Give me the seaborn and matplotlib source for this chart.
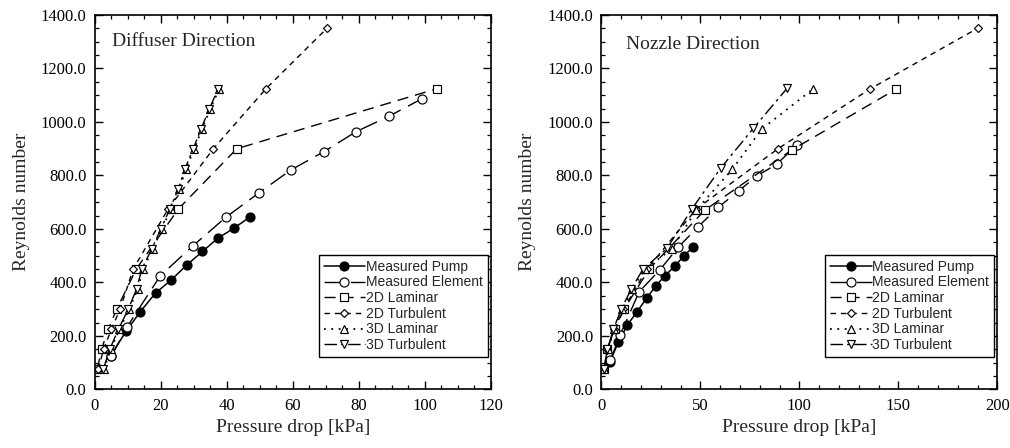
import matplotlib
matplotlib.use("Agg")
import matplotlib.pyplot as plt
import seaborn as sns
from matplotlib.ticker import MultipleLocator, FormatStrFormatter

# ---------------- data: Diffuser direction ----------------
d_pump_dp = [4.8, 9.4, 13.7, 18.4, 23.0, 27.8, 32.6, 37.2, 42.0, 46.9]
d_pump_re = [127, 217, 290, 361, 408, 465, 516, 565, 602, 644]

d_elem_dp = [5.0, 9.8, 19.8, 29.7, 39.7, 49.6, 59.3, 69.4, 79.2, 89.2, 99.0]
d_elem_re = [125, 235, 425, 537, 644, 734, 820, 889, 964, 1022, 1086]

d_lam2_dp = [0.7, 2.0, 4.0, 6.6, 12.5, 25.3, 43.0, 103.8]
d_lam2_re = [75, 150, 225, 300, 450, 675, 900, 1125]

d_tur2_dp = [1.0, 2.6, 5.0, 7.6, 11.6, 22.2, 35.9, 51.9, 70.3]
d_tur2_re = [75, 150, 225, 300, 450, 675, 900, 1125, 1350]

d_lam3_dp = [2.7, 4.8, 7.4, 10.4, 12.9, 14.6, 17.5, 20.3, 23.0, 25.6, 27.6, 30.1, 32.5, 35.0, 37.7]
d_lam3_re = [75, 150, 225, 300, 375, 450, 525, 600, 675, 750, 825, 900, 975, 1050, 1125]

d_tur3_dp = [2.5, 4.5, 7.1, 10.1, 12.6, 14.2, 17.2, 20.0, 22.7, 25.3, 27.3, 29.8, 32.2, 34.7, 37.4]
d_tur3_re = [75, 150, 225, 300, 375, 450, 525, 600, 675, 750, 825, 900, 975, 1050, 1125]

# ---------------- data: Nozzle direction ----------------
n_pump_dp = [4.3, 8.5, 13.1, 17.8, 22.8, 27.4, 32.1, 37.1, 41.7, 46.4]
n_pump_re = [104, 176, 241, 289, 341, 387, 425, 462, 499, 534]

n_elem_dp = [4.5, 9.5, 19.1, 29.5, 38.8, 48.9, 59.0, 69.4, 78.7, 88.5, 98.6]
n_elem_re = [110, 205, 366, 447, 532, 609, 681, 743, 799, 842, 913]

n_lam2_dp = [1.3, 2.9, 6.8, 11.4, 24.1, 52.3, 96.1, 148.9]
n_lam2_re = [75, 150, 225, 300, 450, 671, 895, 1123]

n_tur2_dp = [1.2, 3.0, 6.5, 11.0, 23.0, 48.0, 89.0, 135.8, 190.0]
n_tur2_re = [75, 150, 225, 300, 450, 675, 899, 1124, 1350]

n_lam3_dp = [1.5, 3.3, 6.5, 10.5, 15.5, 22.0, 35.5, 48.0, 66.1, 80.9, 106.7]
n_lam3_re = [75, 150, 225, 300, 375, 450, 525, 672, 823, 973, 1122]

n_tur3_dp = [1.3, 3.0, 6.0, 10.0, 15.0, 21.0, 33.2, 45.6, 60.2, 76.7, 93.8]
n_tur3_re = [75, 150, 225, 300, 375, 450, 528, 674, 827, 976, 1126]

series_names = ["Measured Pump", "Measured Element", "2D Laminar",
                "2D Turbulent", "3D Laminar", "3D Turbulent"]

# ---------------- styling ----------------
sns.set_theme(style="ticks")
plt.rcParams["font.family"] = ["Liberation Serif", "DejaVu Serif"]
plt.rcParams["lines.scale_dashes"] = False

styles = {
    "Measured Pump":    dict(marker="o", ms=6.5, mfc="black", ls="-", lw=1.1),
    "Measured Element": dict(marker="o", ms=6.5, mfc="white", ls=(0, (13, 6)), lw=1.0),
    "2D Laminar":       dict(marker="s", ms=6.3, mfc="white", ls=(0, (8, 5)), lw=1.0),
    "2D Turbulent":     dict(marker="D", ms=4.3, mfc="white", ls=(0, (4, 3.5)), lw=1.0),
    "3D Laminar":       dict(marker="^", ms=6.3, mfc="white", ls=(0, (1.3, 4)), lw=1.3),
    "3D Turbulent":     dict(marker="v", ms=6.3, mfc="white", ls=(0, (9, 3, 2, 3)), lw=1.0),
}

panels = [
    ("Diffuser Direction",
     [(d_pump_dp, d_pump_re), (d_elem_dp, d_elem_re), (d_lam2_dp, d_lam2_re),
      (d_tur2_dp, d_tur2_re), (d_lam3_dp, d_lam3_re), (d_tur3_dp, d_tur3_re)],
     (0, 120), 20, 5, 0.042, 0.93),
    ("Nozzle Direction",
     [(n_pump_dp, n_pump_re), (n_elem_dp, n_elem_re), (n_lam2_dp, n_lam2_re),
      (n_tur2_dp, n_tur2_re), (n_lam3_dp, n_lam3_re), (n_tur3_dp, n_tur3_re)],
     (0, 200), 50, 10, 0.062, 0.92),
]

fig = plt.figure(figsize=(10.10, 4.48), dpi=100)
ax_left = fig.add_axes([0.094, 0.1306, 0.392, 0.836])
ax_right = fig.add_axes([0.5955, 0.1306, 0.392, 0.836])

for ax, (title, data, xlim, xmaj, xmin, tx, ty) in zip([ax_left, ax_right], panels):
    for name, (xs, ys) in zip(series_names, data):
        st = styles[name]
        sns.lineplot(x=xs, y=ys, ax=ax, sort=False, estimator=None,
                     color="black", linestyle=st["ls"], linewidth=st["lw"],
                     marker=st["marker"], markersize=st["ms"],
                     markerfacecolor=st["mfc"], markeredgecolor="black",
                     markeredgewidth=0.85, label=name)
    ax.set_xlim(*xlim)
    ax.set_ylim(0, 1400)
    ax.xaxis.set_major_locator(MultipleLocator(xmaj))
    ax.xaxis.set_minor_locator(MultipleLocator(xmin))
    ax.yaxis.set_major_locator(MultipleLocator(200))
    ax.yaxis.set_minor_locator(MultipleLocator(50))
    ax.yaxis.set_major_formatter(FormatStrFormatter("%.1f"))
    ax.tick_params(which="both", direction="in", top=True, right=True,
                   colors="black", labelsize=12, pad=6)
    ax.tick_params(which="major", length=6, width=1.0)
    ax.tick_params(which="minor", length=3, width=0.9)
    for sp in ax.spines.values():
        sp.set_color("black")
        sp.set_linewidth(1.2)
    ax.set_xlabel("Pressure drop [kPa]", fontsize=14, labelpad=4)
    ax.set_ylabel("Reynolds number", fontsize=14, labelpad=8)
    ax.text(tx, ty, title, transform=ax.transAxes, fontsize=14,
            ha="left", va="center")
    leg = ax.legend(loc="lower right", bbox_to_anchor=(0.992, 0.087),
                    prop={"family": "Liberation Sans", "size": 10},
                    frameon=True, fancybox=False, framealpha=1,
                    edgecolor="black", handlelength=3.0, handletextpad=0.05,
                    labelspacing=0.12, borderpad=0.35, borderaxespad=0,
                    numpoints=1)
    leg.get_frame().set_linewidth(1.0)

fig.savefig("out.png", dpi=100)
